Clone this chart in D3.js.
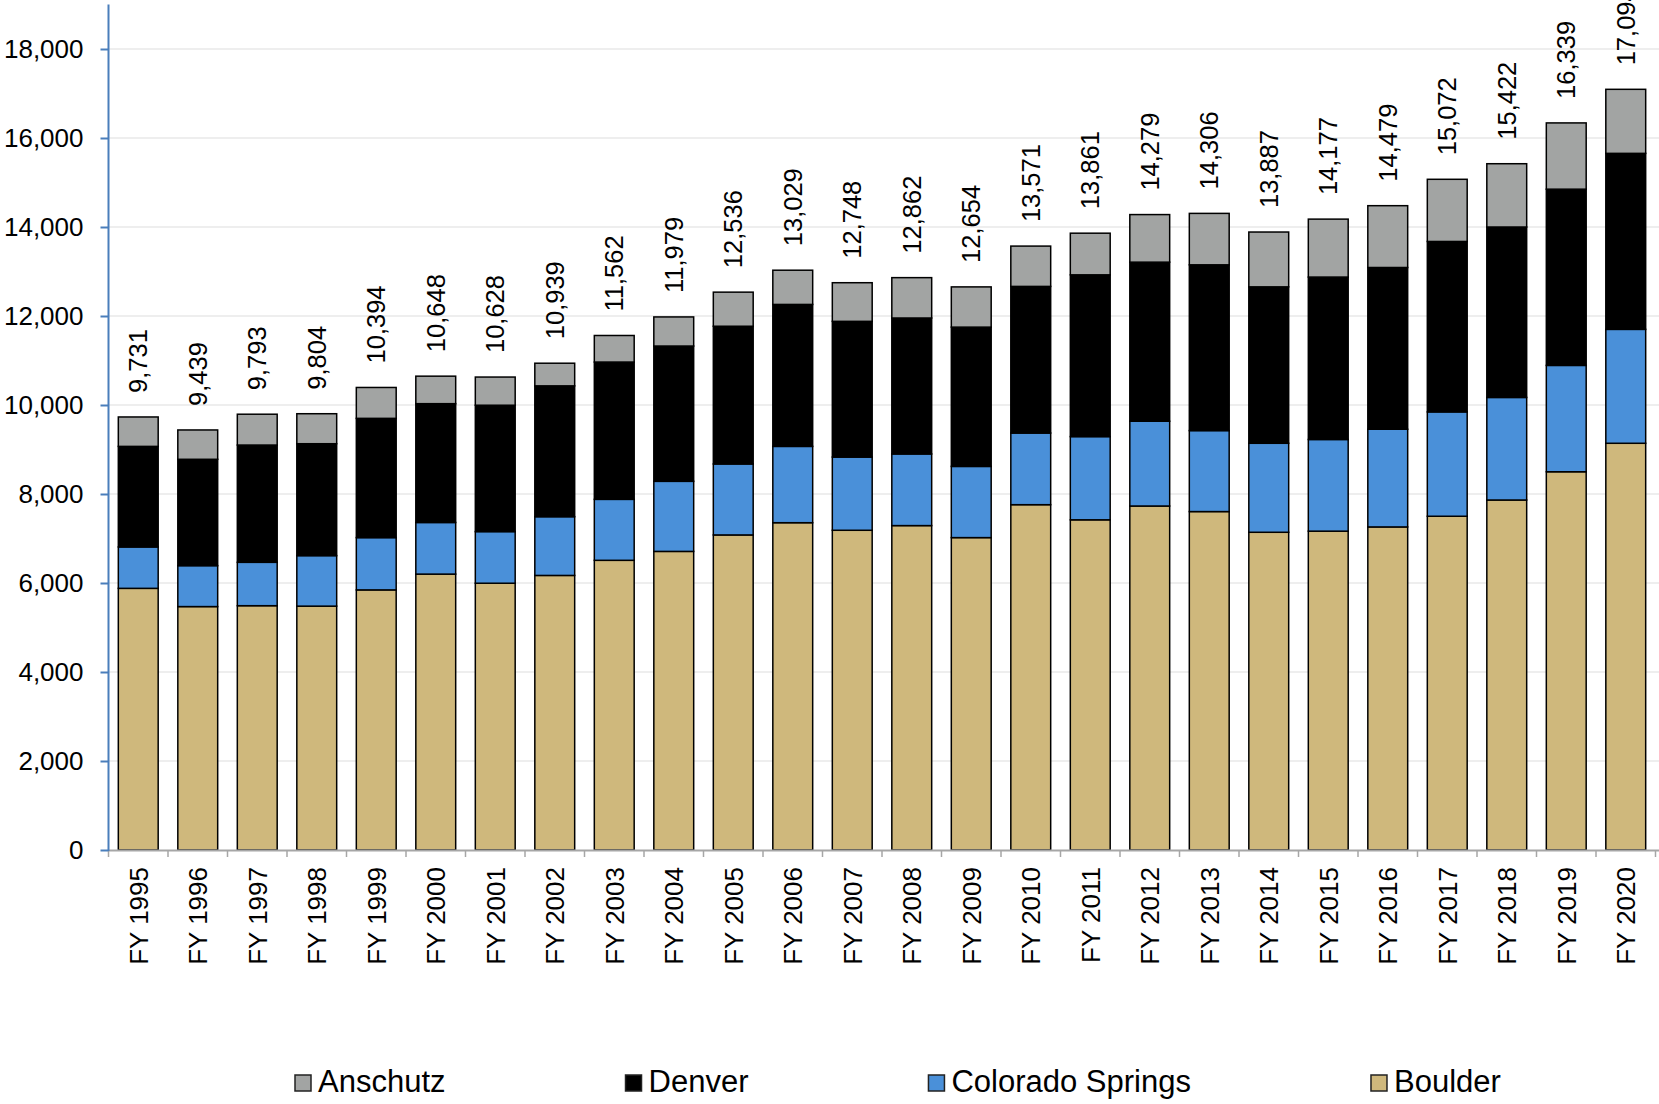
<!DOCTYPE html>
<html>
<head>
<meta charset="utf-8">
<script src="https://cdn.jsdelivr.net/npm/d3@7"></script>
<style>
  body { margin: 0; background: #fff; }
  text { font-family: "Liberation Sans", Arial, sans-serif; fill: #000; }
</style>
</head>
<body>
<svg id="chart" width="1659" height="1104"></svg>
<script>

var years = ["FY 1995","FY 1996","FY 1997","FY 1998","FY 1999","FY 2000","FY 2001","FY 2002","FY 2003","FY 2004",
             "FY 2005","FY 2006","FY 2007","FY 2008","FY 2009","FY 2010","FY 2011","FY 2012","FY 2013","FY 2014",
             "FY 2015","FY 2016","FY 2017","FY 2018","FY 2019","FY 2020"];

var boulder = [5880,5470,5490,5480,5845,6200,5995,6170,6510,6710,7080,7355,7185,7290,7020,7760,7420,7730,7605,7140,7165,7260,7500,7865,8500,9140];
var coloradoSprings = [930,920,975,1135,1175,1160,1160,1320,1370,1575,1595,1715,1645,1610,1600,1610,1870,1905,1820,2000,2060,2195,2345,2305,2390,2560];
var denver = [2260,2390,2635,2515,2680,2670,2840,2940,3085,3040,3095,3190,3050,3055,3130,3295,3635,3575,3725,3515,3650,3635,3830,3830,3960,3955];
var anschutz = [661,659,693,674,694,618,633,509,597,654,766,769,868,907,904,906,936,1069,1156,1232,1302,1389,1397,1422,1489,1439];
var totals = [9731,9439,9793,9804,10394,10648,10628,10939,11562,11979,12536,13029,12748,12862,12654,13571,13861,14279,14306,13887,14177,14479,15072,15422,16339,17094];

var yTicks = [0,2000,4000,6000,8000,10000,12000,14000,16000,18000];

// stack order bottom -> top
var series = [
  {name: "Boulder", values: boulder, color: "#cfb87c"},
  {name: "Colorado Springs", values: coloradoSprings, color: "#4a90d9"},
  {name: "Denver", values: denver, color: "#000000"},
  {name: "Anschutz", values: anschutz, color: "#a2a4a3"}
];
var legendOrder = ["Anschutz","Denver","Colorado Springs","Boulder"];

var svg = d3.select("#chart");
var plotLeft = 108.5, plotRight = 1655.5, plotTop = 4.5, plotBottom = 850;

var x = d3.scaleBand().domain(years).range([plotLeft, plotRight])
    .paddingInner(0.33).paddingOuter(0.165);
var y = d3.scaleLinear().domain([0, 19000]).range([plotBottom, plotTop]);

// gridlines
svg.append("g").selectAll("line")
  .data(yTicks.slice(1))
  .enter().append("line")
  .attr("x1", plotLeft).attr("x2", 1659)
  .attr("y1", function(d){ return y(d); })
  .attr("y2", function(d){ return y(d); })
  .attr("stroke", "#e9e9e9").attr("stroke-width", 1.5);

// build rows for stacking
var rows = years.map(function(yr, i) {
  var r = {year: yr};
  series.forEach(function(s){ r[s.name] = s.values[i]; });
  return r;
});
var stack = d3.stack().keys(series.map(function(s){ return s.name; }));
var stacked = stack(rows);

svg.append("g").selectAll("g")
  .data(stacked)
  .enter().append("g")
  .attr("fill", function(d, i){ return series[i].color; })
  .selectAll("rect")
  .data(function(d){ return d; })
  .enter().append("rect")
  .attr("x", function(d){ return x(d.data.year); })
  .attr("width", x.bandwidth())
  .attr("y", function(d){ return y(d[1]); })
  .attr("height", function(d){ return y(d[0]) - y(d[1]); })
  .attr("stroke", "#000")
  .attr("stroke-width", 1.5);

// total labels
var fmt = d3.format(",");
svg.append("g").selectAll("text")
  .data(totals)
  .enter().append("text")
  .attr("transform", function(d, i){
    return "translate(" + (x(years[i]) + x.bandwidth()/2) + "," + (y(d) - 24) + ") rotate(-90)";
  })
  .attr("dy", "0.36em")
  .attr("font-size", 25.5)
  .attr("text-anchor", "start")
  .text(function(d){ return fmt(d); });

// x axis
var xAxis = svg.append("g");
xAxis.append("line")
  .attr("x1", plotLeft).attr("x2", 1659)
  .attr("y1", plotBottom + 0.5).attr("y2", plotBottom + 0.5)
  .attr("stroke", "#a6a6a6").attr("stroke-width", 2);
xAxis.selectAll(".tk")
  .data(d3.range(years.length + 1))
  .enter().append("line")
  .attr("class", "tk")
  .attr("x1", function(i){ return plotLeft + i * x.step(); })
  .attr("x2", function(i){ return plotLeft + i * x.step(); })
  .attr("y1", plotBottom).attr("y2", plotBottom + 7)
  .attr("stroke", "#a6a6a6").attr("stroke-width", 1.5);
xAxis.selectAll(".lbl")
  .data(years)
  .enter().append("text")
  .attr("class", "lbl")
  .attr("transform", function(d){
    return "translate(" + (x(d) + x.bandwidth()/2) + "," + 867 + ") rotate(-90)";
  })
  .attr("dy", "0.36em")
  .attr("font-size", 26)
  .attr("text-anchor", "end")
  .text(function(d){ return d; });

// y axis
var yAxis = svg.append("g")
  .attr("transform", "translate(" + plotLeft + ",0)")
  .call(d3.axisLeft(y).tickValues(yTicks).tickSize(8).tickPadding(17)
    .tickFormat(d3.format(",")));
yAxis.select(".domain").remove();
yAxis.append("line")
  .attr("x1", 0).attr("x2", 0)
  .attr("y1", plotTop).attr("y2", plotBottom + 1)
  .attr("stroke", "#4a7ebb").attr("stroke-width", 2);
yAxis.selectAll(".tick line").attr("stroke", "#4a7ebb").attr("stroke-width", 2);
yAxis.selectAll(".tick text")
  .attr("font-size", 26)
  .attr("font-family", "'Liberation Sans', Arial, sans-serif")
  .attr("fill", "#000");

// legend
var colorOf = {};
series.forEach(function(s){ colorOf[s.name] = s.color; });
var legend = svg.append("g");
var lx = 295;
legendOrder.forEach(function(name) {
  var g = legend.append("g").attr("transform", "translate(" + lx + ",0)");
  g.append("rect")
    .attr("x", 0).attr("y", 1075)
    .attr("width", 16).attr("height", 16)
    .attr("fill", colorOf[name])
    .attr("stroke", "#222").attr("stroke-width", 1.5);
  var t = g.append("text")
    .attr("x", 23).attr("y", 1092)
    .attr("font-size", 31)
    .text(name);
  lx += 23 + t.node().getComputedTextLength() + 180;
});

</script>
</body>
</html>
